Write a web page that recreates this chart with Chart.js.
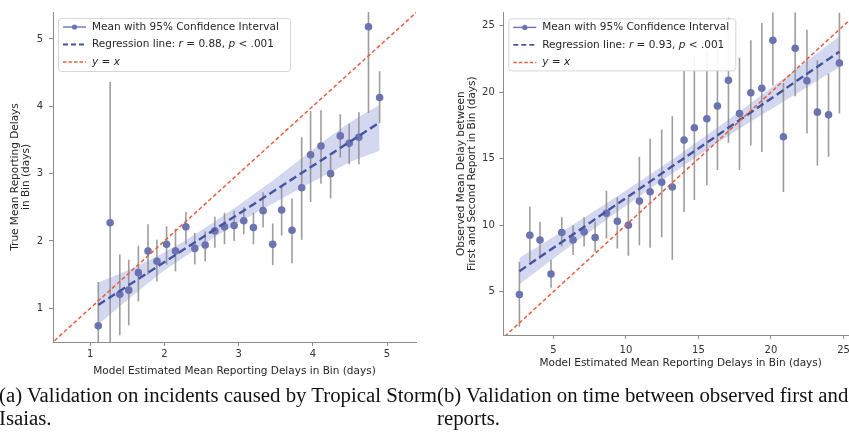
<!DOCTYPE html>
<html>
<head>
<meta charset="utf-8">
<script src="https://cdn.jsdelivr.net/npm/chart.js@4.4.1/dist/chart.umd.min.js"></script>
<style>
body { margin:0; width:849px; height:432px; overflow:hidden; background:#fff; position:relative; }
.box { position:absolute; top:0; height:385px; }
#wrapA { left:0; width:430px; }
#wrapB { left:430px; width:440px; }
.cap { position:absolute; font-family:"Liberation Serif", serif; font-size:18px; line-height:23px; color:#111; white-space:nowrap; }
</style>
</head>
<body>
<div class="box" id="wrapA"><canvas id="chartA"></canvas></div>
<div class="box" id="wrapB"><canvas id="chartB"></canvas></div>
<div class="cap" id="capA" style="left:-1px; top:383px"></div>
<div class="cap" id="capB" style="left:437px; top:383px"></div>
<script>
// (a) Tropical Storm Isaias
const xA    = [1.11,1.27,1.40,1.52,1.65,1.78,1.90,2.03,2.15,2.29,2.41,2.55,2.68,2.81,2.94,3.07,3.20,3.33,3.46,3.58,3.72,3.85,3.97,4.11,4.24,4.37,4.49,4.62,4.75,4.90];
const meanA = [0.74,2.27,1.21,1.27,1.53,1.85,1.70,1.95,1.85,2.21,1.89,1.94,2.15,2.21,2.23,2.30,2.20,2.45,1.95,2.46,2.16,2.79,3.28,3.41,3.00,3.56,3.45,3.54,5.18,4.13];
const loA   = [0.10,0.18,0.60,0.75,1.10,1.50,1.40,1.65,1.55,1.95,1.65,1.70,1.90,1.95,2.00,2.10,1.95,2.20,1.64,2.08,1.67,2.02,2.58,2.85,2.63,3.24,3.14,3.14,3.90,3.75];
const hiA   = [1.39,4.36,1.80,1.72,1.93,2.25,2.02,2.22,2.18,2.43,2.12,2.14,2.36,2.42,2.45,2.50,2.42,2.72,2.26,2.82,2.63,3.54,3.93,3.94,3.27,3.88,3.74,3.91,6.40,4.52];
const bandXA  = [1.11,1.50,2.00,2.50,3.00,3.50,4.00,4.50,4.90];
const bandHiA = [1.38,1.56,1.83,2.16,2.53,2.93,3.36,3.76,4.02];
const bandLoA = [0.76,1.12,1.56,1.93,2.27,2.58,2.88,3.17,3.34];
const regXA = [1.11, 4.90];
const regYA = [1.05, 3.76];
const ticksXA = [1,2,3,4,5];
const ticksYA = [1,2,3,4,5];
const legendA = ['Mean with 95% Confidence Interval', 'Regression line: $r$ = 0.88, $p$ < .001', '$y$ = $x$'];

// (b) first vs second report
const xB    = [2.66,3.38,4.08,4.84,5.58,6.36,7.12,7.88,8.66,9.41,10.17,10.93,11.67,12.47,13.20,14.01,14.72,15.58,16.31,17.07,17.83,18.61,19.37,20.13,20.86,21.67,22.48,23.20,23.97,24.72];
const meanB = [4.80,9.25,8.89,6.33,9.45,8.89,9.50,9.08,10.90,10.30,10.00,11.82,12.52,13.23,12.87,16.40,17.33,18.00,18.96,20.90,18.40,19.96,20.30,23.90,16.65,23.30,20.86,18.50,18.30,22.20];
const loB   = [2.37,7.26,7.50,5.30,8.40,7.76,8.40,8.00,9.00,8.26,7.70,8.50,8.30,9.10,7.40,11.00,11.90,13.00,14.15,16.20,14.15,16.00,15.50,20.50,12.50,19.70,16.90,14.50,15.15,18.40];
const hiB   = [7.26,11.40,10.26,7.40,10.60,10.00,10.60,10.26,12.60,12.10,12.10,15.15,16.50,17.20,18.20,21.80,22.70,23.00,23.60,25.60,22.60,23.90,25.20,27.30,20.70,26.90,24.70,22.40,21.40,26.00];
const bandXB  = [2.66,6.00,10.00,14.00,18.00,22.00,24.72];
const bandHiB = [7.55,9.80,12.62,15.55,18.68,21.95,24.20];
const bandLoB = [5.55,8.30,11.46,14.50,17.36,20.05,21.90];
const regXB = [2.66, 24.72];
const regYB = [6.55, 23.05];
const ticksXB = [5,10,15,20,25];
const ticksYB = [5,10,15,20,25];
const legendB = ['Mean with 95% Confidence Interval', 'Regression line: $r$ = 0.93, $p$ < .001', '$y$ = $x$'];

const identity = [0, 30];
const xTitle = 'Model Estimated Mean Reporting Delays in Bin (days)';
const capA = ['(a) Validation on incidents caused by Tropical Storm', 'Isaias.'];
const capB = ['(b) Validation on time between observed first and second', 'reports.'];

const PT = '#6b73b0', REG = '#4553a3', IDL = '#e4603f', BAR = 'rgba(140,140,140,0.85)', BAND = 'rgba(118,132,205,0.32)';
const FONT = 'DejaVu Sans';

function pts(xs, ys) { return xs.map((x, i) => ({x: x, y: ys[i]})); }
function bars(xs, lo, hi) {
  const d = [];
  xs.forEach((x, i) => { d.push({x: x, y: lo[i]}, {x: x, y: hi[i]}, {x: x, y: null}); });
  return d;
}

function legendPlugin(labels, box) {
  return {
    id: 'boxLegend',
    afterDraw(chart) {
      const ctx = chart.ctx, a = chart.chartArea;
      const x0 = a.left + box.dx, y0 = a.top + box.dy;
      ctx.save();
      ctx.fillStyle = 'rgba(255,255,255,0.93)';
      ctx.strokeStyle = 'rgba(210,210,210,0.9)';
      ctx.lineWidth = 1;
      ctx.beginPath();
      ctx.roundRect(x0 + 0.5, y0 + 0.5, box.w, box.h, 3);
      ctx.fill(); ctx.stroke();
      labels.forEach((lab, i) => {
        const cy = y0 + 9 + i * 17.5;
        const hx0 = x0 + 5, hx1 = x0 + 28;
        ctx.beginPath();
        if (i === 0) {
          ctx.setLineDash([]); ctx.strokeStyle = PT; ctx.lineWidth = 1.4;
          ctx.moveTo(hx0, cy); ctx.lineTo(hx1, cy); ctx.stroke();
          ctx.beginPath(); ctx.fillStyle = PT; ctx.arc((hx0 + hx1) / 2, cy, 2.6, 0, Math.PI * 2); ctx.fill();
        } else {
          ctx.setLineDash(i === 1 ? [5, 3] : [3.5, 2]);
          ctx.strokeStyle = i === 1 ? REG : IDL; ctx.lineWidth = i === 1 ? 1.9 : 1.5;
          ctx.moveTo(hx0, cy); ctx.lineTo(hx1, cy); ctx.stroke();
        }
        ctx.setLineDash([]);
        ctx.fillStyle = '#262626'; ctx.textBaseline = 'middle'; ctx.textAlign = 'left';
        let tx = x0 + 34;
        lab.split('$').forEach((run, k) => {
          if (!run) return;
          ctx.font = (k % 2 ? 'italic ' : '') + '10.5px "' + FONT + '"';
          ctx.fillText(run, tx, cy);
          tx += ctx.measureText(run).width;
        });
      });
      ctx.restore();
    }
  };
}

function axis(min, max, ticks, opts) {
  return {
    type: 'linear', min: min, max: max,
    afterBuildTicks: s => { s.ticks = ticks.map(v => ({value: v})); },
    afterFit: s => { if (opts.width) s.width = opts.width; if (opts.height) s.height = opts.height; },
    grid: {display: true, drawOnChartArea: false, drawTicks: true, tickLength: 4, color: '#8c8c8c'},
    border: {display: true, color: '#8c8c8c', width: 1},
    ticks: {font: {family: FONT, size: 10}, color: '#333', padding: opts.pad, maxRotation: 0, autoSkip: false, callback: v => String(v)},
    title: {display: true, text: opts.title, color: '#262626', font: {family: FONT, size: 10.5, lineHeight: opts.lh || 1.2}, padding: opts.tpad}
  };
}

function makeChart(id, d) {
  return new Chart(document.getElementById(id), {
    type: 'line',
    data: {
      datasets: [
        {data: identity.map(v => ({x: v, y: v})), borderColor: IDL, borderWidth: 1.5, borderDash: [4, 2.5], pointRadius: 0, fill: false},
        {data: pts(d.regX, d.regY), borderColor: REG, borderWidth: 2.4, borderDash: [8, 4], pointRadius: 0, fill: false},
        {data: pts(d.x, d.mean), showLine: false, pointRadius: 3.8, pointBackgroundColor: PT, pointBorderColor: PT, pointBorderWidth: 0, fill: false},
        {data: bars(d.x, d.lo, d.hi), borderColor: BAR, borderWidth: 1.6, spanGaps: false, pointRadius: 0, fill: false},
        {data: pts(d.bandX, d.bandHi), borderWidth: 0, borderColor: 'rgba(0,0,0,0)', backgroundColor: BAND, pointRadius: 0, tension: 0.3, fill: '+1'},
        {data: pts(d.bandX, d.bandLo), borderWidth: 0, borderColor: 'rgba(0,0,0,0)', pointRadius: 0, tension: 0.3, fill: false}
      ]
    },
    options: {
      responsive: true, maintainAspectRatio: false, animation: false,
      layout: {padding: d.padding},
      plugins: {legend: {display: false}, tooltip: {enabled: false}},
      scales: {x: d.xs, y: d.ys}
    },
    plugins: [legendPlugin(d.legend, d.box)]
  });
}

makeChart('chartA', {
  x: xA, mean: meanA, lo: loA, hi: hiA, bandX: bandXA, bandHi: bandHiA, bandLo: bandLoA, regX: regXA, regY: regYA,
  legend: legendA, box: {dx: 5, dy: 6, w: 232, h: 53},
  padding: {top: 11, right: 14, left: 0, bottom: 0},
  xs: axis(0.5, 5.39, ticksXA, {height: 43, pad: 2, title: xTitle, tpad: {top: 0, bottom: 7.7}}),
  ys: axis(0.5, 5.4, ticksYA, {width: 53, pad: 6, title: ['True Mean Reporting Delays', 'in Bin (days)'], lh: 1.05, tpad: {top: 9.5, bottom: 0}})
});

makeChart('chartB', {
  x: xB, mean: meanB, lo: loB, hi: hiB, bandX: bandXB, bandHi: bandHiB, bandLo: bandLoB, regX: regXB, regY: regYB,
  legend: legendB, box: {dx: 5, dy: 6, w: 227, h: 52},
  padding: {top: 12.4, right: 12, left: 0, bottom: 0},
  xs: axis(1.55, 26.0, ticksXB, {height: 50, pad: 5, title: xTitle, tpad: {top: 0, bottom: 15.7}}),
  ys: axis(1.75, 26.0, ticksYB, {width: 73.3, pad: 4.5, title: ['Observed Mean Delay between', 'First and Second Report in Bin (days)'], lh: 1.05, tpad: {top: 25.5, bottom: 0}})
});

// captions
const ea = document.getElementById('capA'), eb = document.getElementById('capB');
ea.innerHTML = capA.join('<br>');
eb.innerHTML = capB.join('<br>');
const probe = document.createElement('span');
probe.className = 'cap'; probe.style.visibility = 'hidden'; probe.textContent = capA[0];
document.body.appendChild(probe);
const fs = 18 * 438 / probe.offsetWidth;
probe.remove();
ea.style.fontSize = fs + 'px'; eb.style.fontSize = fs + 'px';
</script>
</body>
</html>
